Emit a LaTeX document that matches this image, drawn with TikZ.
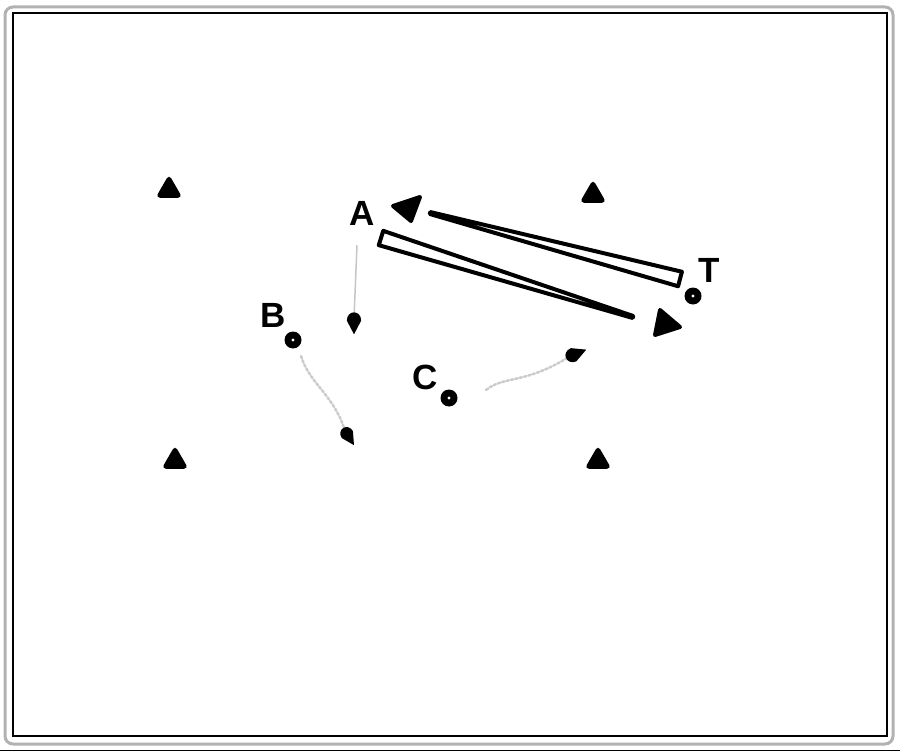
\documentclass[tikz,border=0pt]{standalone}
\usepackage{fontspec}
\setmainfont{Liberation Sans}
\usetikzlibrary{shapes.geometric,calc}
\tikzset{
  conemark/.style={regular polygon, regular polygon sides=3, minimum size=26pt, inner sep=0pt, fill=black, draw=black, line width=2.5pt, rounded corners=2.5pt},
  player/.style={circle, fill=black, minimum size=17pt, inner sep=0pt,
    path picture={\fill[white] (path picture bounding box.center) circle (1.6pt);}},
  lbl/.style={inner sep=0pt, font=\fontsize{35}{35}\selectfont\bfseries},
  band/.style={draw=black, fill=white, line width=4pt, line join=round},
  head/.style={draw=black, fill=black, line width=4pt, line join=round},
  runline/.style={gray!45, line width=1.5pt},
  dribble/.style={gray!40, line width=2.5pt, dotted, line cap=round},
}
\newcommand{\teardrop}[4]{% x, y, angle, scale
  \fill[black, shift={(#1,#2)}, rotate=#3, scale=#4] (11pt,0pt) -- (0.5pt,-5.5pt) .. controls (-8pt,-5.5pt) and (-8pt,5.5pt) .. (0.5pt,5.5pt) -- cycle;}
\begin{document}
\begin{tikzpicture}[x=1pt,y=-1pt]
\useasboundingbox (0,0) rectangle (900,752);
\fill[white] (0,0) rectangle (900,752);
% frame
\draw[gray!60, line width=3pt, rounded corners=8pt] (5,7) rectangle (893,744);
\draw[black, line width=1.2pt] (13,13) rectangle (887,736);
\draw[black, line width=0.8pt] (0,750) -- (900,750);
% cones
\node[conemark] (k1) at (169,190) {};
\node[conemark] (k2) at (593,195) {};
\node[conemark] (k3) at (175,461) {};
\node[conemark] (k4) at (598,461) {};
% players
\node[player] (B) at (293,340) {};
\node[player] (C) at (449,398) {};
\node[player] (T) at (693,296) {};
% labels
\node[lbl] (lA) at (362,213) {A};
\node[lbl] (lB) at (273,315) {B};
\node[lbl] (lC) at (425,377) {C};
\node[lbl] (lT) at (709,270) {T};
% pass T -> A
\coordinate (p1s) at (680,279);
\coordinate (p1e) at (430,213);
\draw[band] ($(p1s)!7.5pt!90:(p1e)$) -- ($(p1e)!1pt!-90:(p1s)$) -- ($(p1e)!1pt!90:(p1s)$) -- ($(p1s)!7.5pt!-90:(p1e)$) -- cycle;
\coordinate (h1) at (393,206);
\draw[head] (h1) -- (420,197) -- (411,221) -- cycle;
% pass A -> T
\coordinate (p2s) at (381,238);
\coordinate (p2e) at (633,317);
\draw[band] ($(p2s)!7.5pt!90:(p2e)$) -- ($(p2e)!1pt!-90:(p2s)$) -- ($(p2e)!1pt!90:(p2s)$) -- ($(p2s)!7.5pt!-90:(p2e)$) -- cycle;
\coordinate (h2) at (680,327);
\draw[head] (h2) -- (660,310) -- (655,335) -- cycle;
% A run down
\coordinate (r1) at (354,318);
\draw[runline] (lA.south) ++(-5,20) coordinate (r0) -- (r1);
\teardrop{354}{320}{-90}{1.3}
% B dribble
\coordinate (bd) at (346,434);
\draw[dribble] (B) ++(8,16) .. controls (310,385) and (335,395) .. (bd);
\teardrop{347}{434}{-58}{1.2}
% C dribble
\coordinate (cd) at (572,355);
\draw[dribble] (486,390) .. controls (505,375) and (525,385) .. (cd);
\teardrop{573}{355}{22}{1.3}
\end{tikzpicture}
\end{document}
